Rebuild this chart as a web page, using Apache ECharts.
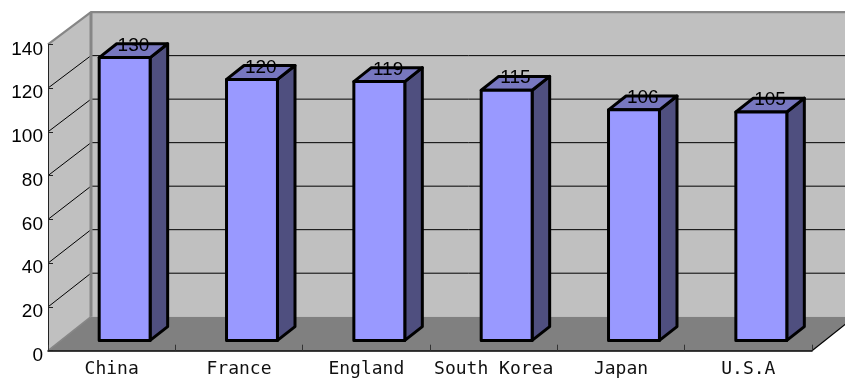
<!DOCTYPE html>
<html>
<head>
<meta charset="utf-8">
<style>html,body{margin:0;padding:0;background:#fff}#c{width:845px;height:380px}</style>
<script src="https://cdn.jsdelivr.net/npm/echarts@6/dist/echarts.min.js"></script>
</head>
<body>
<div id="c"></div>
<script>
var categories = ['China', 'France', 'England', 'South Korea', 'Japan', 'U.S.A'];
var values = [130, 120, 119, 115, 106, 105];
var gridValues = [0, 20, 40, 60, 80, 100, 120, 140];

var DX = 43, DY = 34, K = 0.994;
var chart = echarts.init(document.getElementById('c'), null, {renderer: 'canvas'});

function yAt(api, v, d) {
  var y0 = api.coord([0, 0])[1], yv = api.coord([0, v])[1];
  var h = y0 - yv;
  return y0 - (d > 0 ? h * K : h) - DY * d;
}

function renderWalls(params, api) {
  var L = api.coord([0, 0])[0] - api.size([1, 0])[0] / 2;
  var R = L + api.size([1, 0])[0] * categories.length;
  var y0 = yAt(api, 0, 0), yT = yAt(api, 140, 0);
  var by0 = yAt(api, 0, 1), byT = yAt(api, 140, 1);
  var BL = L + DX, BR = R + DX;
  var ch = [];
  ch.push({type: 'polygon', shape: {points: [[BL, byT], [BR, byT], [BR, by0], [BL, by0]]}, style: {fill: '#C0C0C0'}});
  ch.push({type: 'polygon', shape: {points: [[L, yT], [BL, byT], [BL, by0], [L, y0]]}, style: {fill: '#C0C0C0'}});
  ch.push({type: 'polygon', shape: {points: [[L, y0], [BL, by0], [BR, by0], [R, y0]]}, style: {fill: '#808080'}});
  gridValues.forEach(function (v) {
    if (v === 0 || v === 140) return;
    var f = yAt(api, v, 0), b = yAt(api, v, 1);
    ch.push({type: 'polyline', shape: {points: [[L, f], [BL, b], [BR, b]]}, style: {stroke: '#000', lineWidth: 1, fill: null}});
  });
  ch.push({type: 'polyline', shape: {points: [[L, yT], [BL, byT], [BR, byT]]}, style: {stroke: '#868686', lineWidth: 2.2, fill: null}});
  ch.push({type: 'line', shape: {x1: BL, y1: byT, x2: BL, y2: by0}, style: {stroke: '#868686', lineWidth: 3}});
  ch.push({type: 'line', shape: {x1: L, y1: y0, x2: BL, y2: by0}, style: {stroke: '#868686', lineWidth: 1.5}});
  ch.push({type: 'line', shape: {x1: R, y1: y0, x2: BR, y2: by0}, style: {stroke: '#000', lineWidth: 1.2}});
  return {type: 'group', children: ch};
}

function renderBar(params, api) {
  var i = api.value(0), v = api.value(1);
  var c = api.coord([i, v]), cat = api.size([1, 0])[0];
  var w = cat * 0.4, d0 = 0.302, d1 = 0.71;
  var x0 = c[0] - w / 2 + DX * d0, x1 = x0 + w;
  var ox = DX * (d1 - d0);
  var yb = yAt(api, 0, d0), yt = yAt(api, v, d0);
  var ybB = yAt(api, 0, d1), ytB = yAt(api, v, d1);
  var s = {stroke: '#000', lineWidth: 3, lineJoin: 'round'};
  function st(fill) { return Object.assign({fill: fill}, s); }
  return {type: 'group', children: [
    {type: 'polygon', shape: {points: [[x1, yt], [x1 + ox, ytB], [x1 + ox, ybB], [x1, yb]]}, style: st('#4F4F7F')},
    {type: 'polygon', shape: {points: [[x0, yt], [x0 + ox, ytB], [x1 + ox, ytB], [x1, yt]]}, style: st('#7777BF')},
    {type: 'polygon', shape: {points: [[x0, yt], [x1, yt], [x1, yb], [x0, yb]]}, style: st('#9999FF')},
    {type: 'text', style: {
      text: String(v), x: (x0 + x1 + ox) / 2, y: yt - 12,
      align: 'center', verticalAlign: 'middle',
      fill: '#000', fontSize: 19, fontFamily: '"Liberation Sans", Arial, sans-serif'
    }}
  ]};
}

chart.setOption({
  animation: false,
  backgroundColor: '#fff',
  grid: {left: 48, right: 33, top: 44.3, bottom: 29.3, containLabel: false},
  xAxis: {
    type: 'category', data: categories, boundaryGap: true, z: 10,
    axisLine: {show: true, lineStyle: {color: '#000', width: 1.5}},
    axisTick: {show: true, inside: true, length: 6, alignWithLabel: false, lineStyle: {color: '#333', width: 1}},
    axisLabel: {show: true, interval: 0, margin: 10, color: '#111', fontSize: 18, fontFamily: '"DejaVu Sans Mono", monospace'},
    splitLine: {show: false}
  },
  yAxis: {
    type: 'value', min: 0, max: 140, interval: 20, z: 10,
    axisLine: {show: true, lineStyle: {color: '#222', width: 1}},
    axisTick: {show: true, inside: true, length: 5, lineStyle: {color: '#222', width: 1}},
    axisLabel: {show: true, margin: 5, verticalAlign: 'top', lineHeight: 10, color: '#000', fontSize: 19, fontFamily: '"Liberation Sans", Arial, sans-serif', showMinLabel: true, showMaxLabel: true},
    splitLine: {show: false}
  },
  series: [
    {type: 'custom', z: 2, silent: true, clip: false, renderItem: renderWalls, data: [[0, 0]], encode: {x: 0, y: 1}},
    {type: 'custom', z: 3, silent: true, clip: false, renderItem: renderBar,
      data: values.map(function (v, i) { return [i, v]; }), encode: {x: 0, y: 1}}
  ]
});
</script>
</body>
</html>
